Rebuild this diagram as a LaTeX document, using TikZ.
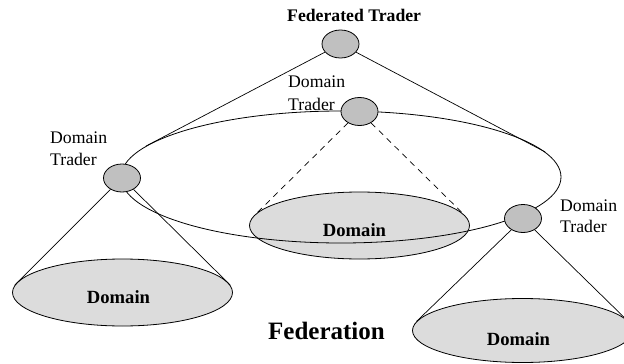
\documentclass[tikz,border=0pt]{standalone}
\usepackage{fontspec}
\setmainfont{Liberation Serif}
\usetikzlibrary{shapes.geometric,backgrounds,calc}
\definecolor{traderfill}{RGB}{192,192,192}
\definecolor{domainfill}{RGB}{220,220,220}
\tikzset{
  traderbox/.style={ellipse, draw, line width=0.8pt, fill=traderfill, inner sep=0pt, minimum width=37pt, minimum height=28pt},
  domainbox/.style={ellipse, draw, line width=0.8pt, fill=domainfill, inner sep=0pt, minimum width=220pt, minimum height=67pt},
  ringbox/.style={ellipse, draw, line width=0.8pt, inner sep=0pt, minimum width=440pt, minimum height=132pt},
  conn/.style={line width=0.7pt},
  dconn/.style={line width=0.7pt, dash pattern=on 6pt off 5pt},
  dlabel/.style={anchor=base, inner sep=0pt, font=\fontsize{18.6}{22}\selectfont\bfseries},
  tlabel/.style={anchor=base west, inner sep=0pt, font=\fontsize{17.7}{22}\selectfont},
}
\begin{document}
\begin{tikzpicture}[x=1pt, y=-1pt]
\useasboundingbox (0,0) rectangle (624,364);
\clip (0,0) rectangle (624,364);
% traders
\node[traderbox] (fed) at (340.5,44) {};
\node[traderbox] (mt) at (359.5,111.5) {};
\node[traderbox] (lt) at (122,178) {};
\node[traderbox] (rt) at (523,218.5) {};
\begin{scope}[on background layer]
  \node[domainbox] (ld) at (122.5,292.5) {};
  \node[domainbox] (md) at (359.5,225.5) {};
  \node[domainbox, minimum height=64pt] (rd) at (522.5,330.5) {};
  \draw[conn] (lt) -- (ld.176);
  \draw[conn] (lt) -- (ld.4.5);
  \draw[dconn] (mt) -- (md.173.8);
  \draw[dconn] (mt) -- (md.6.2);
  \draw[conn] (rt) -- (rd.175.2);
  \draw[conn] (rt) -- (rd.4.8);
  \node[ringbox] (ring) at (341,177) {};
  \draw[conn] (fed) -- (ring.171.7);
  \draw[conn] (fed) -- (ring.7);
\end{scope}
% labels
\node[anchor=base west, inner sep=0pt, font=\fontsize{17.7}{22}\selectfont\bfseries] (fedlab) at (287,21) {Federated Trader};
\node[tlabel] (ltlab) at (50,143) {\vtop{\baselineskip=22pt\hbox{Domain}\hbox{Trader}}};
\node[tlabel] (mtlab) at (288,87) {\vtop{\baselineskip=23.5pt\hbox{Domain}\hbox{Trader}}};
\node[tlabel] (rtlab) at (560,211) {\vtop{\baselineskip=21pt\hbox{Domain}\hbox{Trader}}};
\node[dlabel] (ldlab) at (118.5,303) {Domain};
\node[dlabel] (mdlab) at (354.5,236) {Domain};
\node[dlabel] (rdlab) at (518.5,345) {Domain};
\node[anchor=base, inner sep=0pt, font=\fontsize{25}{30}\selectfont\bfseries] (fedn) at (326.5,339) {Federation};
\end{tikzpicture}
\end{document}
